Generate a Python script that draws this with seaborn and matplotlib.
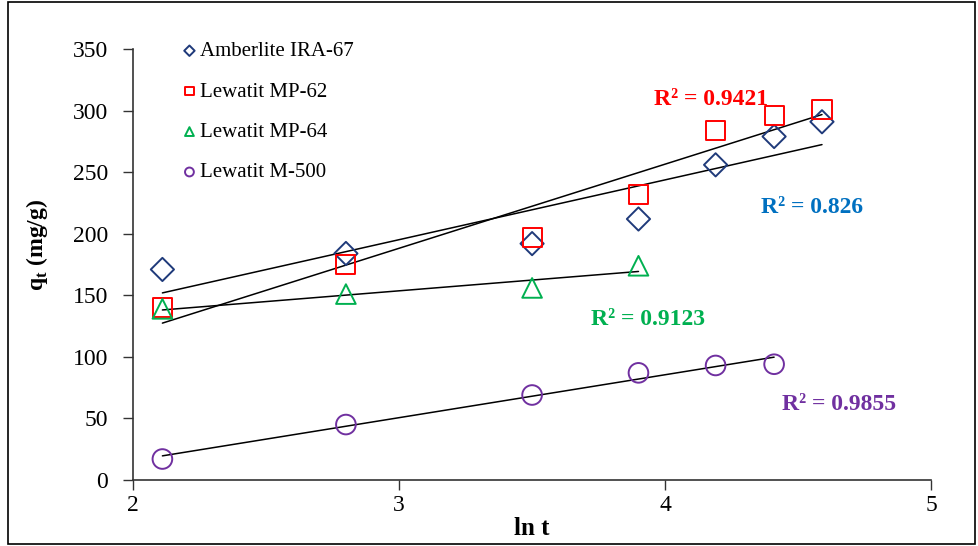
import matplotlib.pyplot as plt
import seaborn as sns
import numpy as np
from matplotlib.patches import Rectangle

# ln t values
ln_t = [2.11, 2.80, 3.50, 3.90, 4.19, 4.41, 4.59]

amberlite_ira67 = [171, 184, 192, 212, 256, 279, 291]
lewatit_mp62 = [140, 175, 197, 232, 284, 296, 301]
lewatit_mp64 = [139, 151, 156, 174]
lewatit_m500 = [17, 45, 69, 87, 93, 94]

names = ['Amberlite IRA-67', 'Lewatit MP-62', 'Lewatit MP-64', 'Lewatit M-500']
series = [amberlite_ira67, lewatit_mp62, lewatit_mp64, lewatit_m500]
colors = ['#1F3A7A', '#FF0000', '#00B050', '#7030A0']
markers = ['D', 's', '^', 'o']
sizes = [140, 190, 200, 200]

r2_labels = ['R² = 0.826', 'R² = 0.9421', 'R² = 0.9123', 'R² = 0.9855']
r2_colors = ['#0070C0', '#FF0000', '#00B050', '#7030A0']
r2_pos = [(4.36, 221), (3.96, 309), (3.72, 130), (4.44, 61)]

sns.set_style('ticks')
plt.rcParams['font.family'] = ['Liberation Serif', 'DejaVu Serif']

fig = plt.figure(figsize=(9.79, 5.46), dpi=100)
ax = fig.add_axes([0.136, 0.121, 0.815, 0.789])

for name, y, c, m, s in zip(names, series, colors, markers, sizes):
    x = ln_t[:len(y)]
    sns.scatterplot(x=x, y=y, ax=ax, marker=m, s=s, facecolor='none',
                    edgecolor=c, linewidth=1.4, label=name, zorder=3)
    # linear trend line
    sns.regplot(x=np.array(x), y=np.array(y), ax=ax, scatter=False, ci=None,
                color='black', line_kws={'linewidth': 1.1}, truncate=True)

for txt, c, (px, py) in zip(r2_labels, r2_colors, r2_pos):
    ax.text(px, py, txt, color=c, fontsize=17, fontweight='bold',
            ha='left', va='center')

ax.set_xlim(2, 5)
ax.set_ylim(0, 350)
ax.set_xticks([2, 3, 4, 5])
ax.set_yticks(range(0, 351, 50))
ax.tick_params(labelsize=17, direction='out', length=7, width=1,
               color='#333333', labelcolor='black')
ax.tick_params(axis='y', pad=11)
ax.set_xlabel('ln t', fontsize=18, fontweight='bold', labelpad=1, color='black')
ax.set_ylabel(r'q$_\mathregular{t}$ (mg/g)', fontsize=17, fontweight='bold', color='black')
ax.yaxis.set_label_coords(-0.104, 0.545)
sns.despine(ax=ax)
for sp in ['left', 'bottom']:
    ax.spines[sp].set_color('#333333')
    ax.spines[sp].set_linewidth(1.2)

leg = ax.legend(loc='upper left', bbox_to_anchor=(0.034, 1.061), frameon=False,
                fontsize=15, markerscale=0.45, handletextpad=0.0,
                labelspacing=1.0, handlelength=1.0)
for t in leg.get_texts():
    t.set_color('black')

fig.patches.append(Rectangle((0.008, 0.004), 0.988, 0.992, transform=fig.transFigure,
                             fill=False, edgecolor='black', linewidth=1.2))

fig.savefig('out.png', dpi=100)
